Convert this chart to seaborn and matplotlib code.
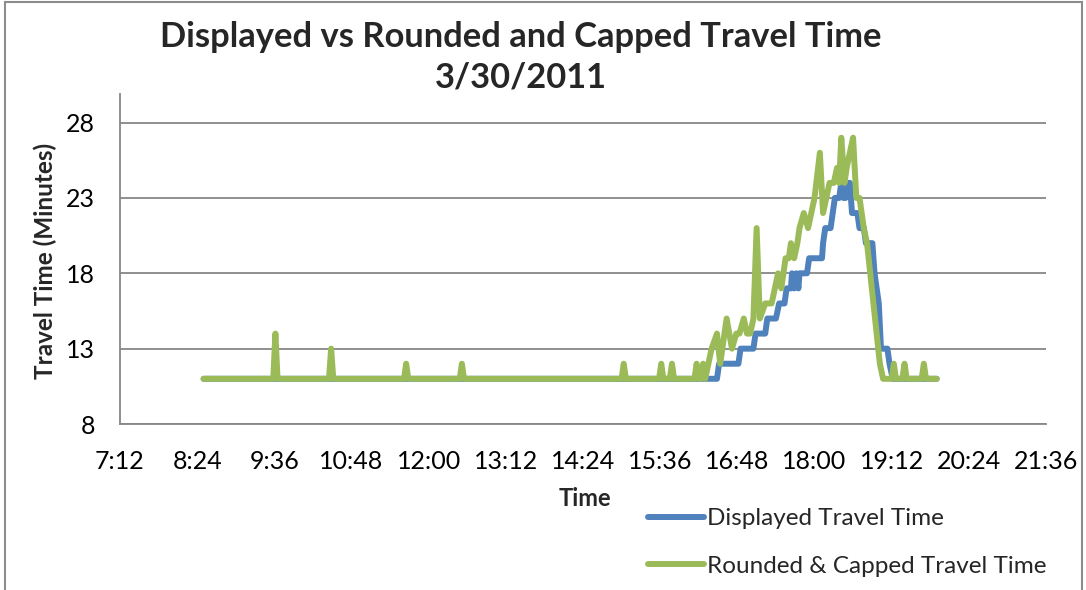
import matplotlib
matplotlib.use("Agg")
import matplotlib.pyplot as plt
import matplotlib.patches as mpatches
from matplotlib.ticker import FixedLocator, FuncFormatter
import seaborn as sns
import pandas as pd

# Displayed travel time (minutes) at each recorded change point
displayed_times = [
    "08:30", "16:29", "16:31", "16:49", "16:51", "17:03", "17:05", "17:14",
    "17:16", "17:24", "17:27", "17:32", "17:34", "17:38", "17:39", "17:41",
    "17:43", "17:45", "17:46", "17:53", "17:55", "18:07", "18:08", "18:10",
    "18:15", "18:17", "18:19", "18:23", "18:25", "18:27", "18:29", "18:31",
    "18:33", "18:35", "18:40", "18:42", "18:46", "18:48", "18:54", "18:56",
    "18:58", "19:00", "19:02", "19:08", "19:10", "19:13", "19:54",
]
displayed_values = [
    11, 11, 12, 12, 13, 13, 14, 14,
    15, 15, 16, 16, 17, 17, 18, 17,
    18, 17, 18, 18, 19, 19, 20, 21,
    21, 22, 23, 23, 24, 23, 23, 24,
    24, 22, 22, 21, 21, 20, 20, 18,
    17, 16, 13, 13, 12, 11, 11,
]

# Rounded & capped travel time (minutes)
rounded_times = [
    "08:30", "09:35", "09:37", "09:39", "10:27", "10:29", "10:31",
    "11:37", "11:39", "11:41", "12:29", "12:31", "12:33",
    "15:00", "15:02", "15:04", "15:35", "15:37", "15:39", "15:45", "15:47", "15:49",
    "16:08", "16:10", "16:12", "16:14", "16:16", "16:18",
    "16:24", "16:29", "16:32", "16:38", "16:43", "16:47", "16:50", "16:54",
    "16:57", "17:00", "17:03", "17:06", "17:09", "17:14", "17:20", "17:23",
    "17:26", "17:29", "17:33", "17:36", "17:38", "17:41", "17:44", "17:46",
    "17:50", "17:54", "17:57", "18:00", "18:05", "18:08", "18:11", "18:14",
    "18:18", "18:21", "18:23", "18:25", "18:28", "18:30", "18:33", "18:36",
    "18:39", "18:42", "18:46", "18:49", "18:52", "18:55", "18:58", "19:01",
    "19:04", "19:12", "19:14", "19:16", "19:22", "19:24", "19:26",
    "19:40", "19:42", "19:44", "19:54",
]
rounded_values = [
    11, 11, 14, 11, 11, 13, 11,
    11, 12, 11, 11, 12, 11,
    11, 12, 11, 11, 12, 11, 11, 12, 11,
    11, 12, 11, 11, 12, 11,
    13, 14, 12, 15, 13, 14, 14, 15,
    14, 14, 15, 21, 15, 16, 16, 17,
    18, 17, 19, 19, 20, 19, 20, 21,
    22, 21, 22, 23, 26, 22, 23, 24,
    24, 25, 24, 27, 24, 25, 26, 27,
    23, 23, 21, 20, 18, 16, 14, 12,
    11, 11, 12, 11, 11, 12, 11,
    11, 12, 11, 11,
]

series_names = ["Displayed Travel Time", "Rounded & Capped Travel Time"]
series_colors = ["#4F81BD", "#9BBB59"]

x_tick_minutes = [432, 504, 576, 648, 720, 792, 864, 936, 1008, 1080, 1152, 1224, 1296]
y_ticks = [8, 13, 18, 23, 28]


def to_minutes(hhmm):
    h, m = hhmm.split(":")
    return int(h) * 60 + int(m)


frames = []
for name, times, values in [
    (series_names[0], displayed_times, displayed_values),
    (series_names[1], rounded_times, rounded_values),
]:
    frames.append(pd.DataFrame({
        "minute": [to_minutes(t) for t in times],
        "value": values,
        "series": name,
    }))
df = pd.concat(frames, ignore_index=True)

sns.set_theme(style="white")
plt.rcParams["font.family"] = ["Lato", "DejaVu Sans"]

fig = plt.figure(figsize=(10.86, 5.90), dpi=100)
ax = fig.add_axes([120 / 1086, 1 - 424 / 590, 926 / 1086, 330 / 590])

sns.lineplot(
    data=df, x="minute", y="value", hue="series",
    hue_order=series_names, palette=series_colors,
    estimator=None, sort=False, linewidth=4.3, legend=False, ax=ax,
    solid_joinstyle="round", solid_capstyle="round",
)

ax.set_xlim(432, 1296)
ax.set_ylim(8, 29.9)
ax.xaxis.set_major_locator(FixedLocator(x_tick_minutes))
ax.xaxis.set_major_formatter(FuncFormatter(lambda m, _: f"{int(m // 60)}:{int(m % 60):02d}"))
ax.yaxis.set_major_locator(FixedLocator(y_ticks))

grid_color = "#878787"
ax.grid(axis="y", color=grid_color, linewidth=1.3)
ax.grid(axis="x", visible=False)
ax.set_axisbelow(True)
for side in ["top", "right"]:
    ax.spines[side].set_visible(False)
for side in ["left", "bottom"]:
    ax.spines[side].set_color(grid_color)
    ax.spines[side].set_linewidth(1.3)

ax.tick_params(axis="both", length=0, labelsize=18, colors="black")
ax.tick_params(axis="x", pad=19)
ax.tick_params(axis="y", pad=18)

ax.set_xlabel("Time", fontsize=17, fontweight="bold", va="center")
ax.xaxis.set_label_coords(0.502, -0.227)
ax.set_ylabel("Travel Time (Minutes)", fontsize=17.5, fontweight="bold", va="center")
ax.yaxis.set_label_coords(-0.081, 0.495)

fig.text(521 / 1086, 1 - 21 / 590,
         "Displayed vs Rounded and Capped Travel Time\n3/30/2011",
         ha="center", va="top", fontsize=24.8, fontweight="bold", linespacing=1.32)

lines = ax.get_lines()[:2]
ax.legend(lines, series_names, loc="upper left",
          bbox_to_anchor=(648 / 1086, 1 - 508 / 590), bbox_transform=fig.transFigure,
          frameon=False, fontsize=17.5, handlelength=2.3, handletextpad=0.12,
          labelspacing=1.1, borderpad=0, borderaxespad=0)

# Chart-area border
fig.patches.append(mpatches.Rectangle(
    (5 / 1086, -0.1), 1077 / 1086, 1.1 - 2 / 590,
    transform=fig.transFigure, fill=False, edgecolor="#8c8c8c", linewidth=1.5,
    clip_on=False))

fig.savefig("out.png", dpi=100)
